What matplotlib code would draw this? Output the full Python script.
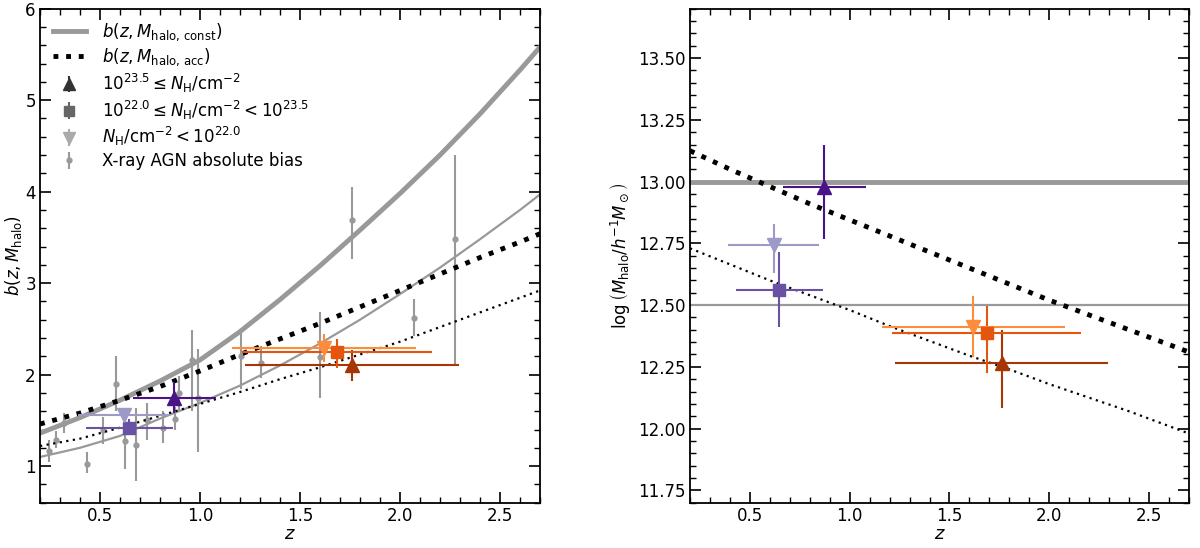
import numpy as np
import matplotlib
matplotlib.use("Agg")
import matplotlib.pyplot as plt
from matplotlib.ticker import MultipleLocator, FormatStrFormatter

# ---------------- data ----------------
# model curves
z_grid = [0.2, 0.4, 0.6, 0.8, 1.0, 1.2, 1.4, 1.6, 1.8, 2.0, 2.2, 2.4, 2.6, 2.7]
b_const_hi = [1.36, 1.53, 1.72, 1.93, 2.16, 2.47, 2.82, 3.19, 3.58, 3.98, 4.40, 4.85, 5.33, 5.58]
b_const_lo = [1.10, 1.20, 1.33, 1.52, 1.69, 1.88, 2.10, 2.34, 2.60, 2.88, 3.17, 3.48, 3.80, 3.97]
b_acc_hi = [1.46, 1.58, 1.72, 1.87, 2.04, 2.22, 2.39, 2.56, 2.74, 2.92, 3.10, 3.28, 3.45, 3.54]
b_acc_lo = [1.22, 1.30, 1.42, 1.55, 1.68, 1.81, 1.95, 2.08, 2.22, 2.36, 2.52, 2.68, 2.84, 2.92]
m_const_hi = 13.0
m_const_lo = 12.5
m_acc_hi = [13.125, 13.05, 12.98, 12.91, 12.845, 12.78, 12.715, 12.65, 12.585, 12.52, 12.46, 12.40, 12.34, 12.31]
m_acc_lo = [12.73, 12.665, 12.60, 12.54, 12.48, 12.415, 12.355, 12.295, 12.24, 12.18, 12.125, 12.07, 12.01, 11.98]

# X-ray AGN absolute bias (z, b, lower, upper)
agn_z = [0.247, 0.28, 0.32, 0.433, 0.517, 0.58, 0.625, 0.68, 0.733, 0.817, 0.875, 0.897, 0.958, 0.99, 1.203, 1.303, 1.60, 1.76, 2.07, 2.277]
agn_b = [1.17, 1.29, 1.47, 1.02, 1.40, 1.90, 1.27, 1.23, 1.50, 1.42, 1.52, 1.80, 2.16, 1.74, 2.20, 2.13, 2.19, 3.69, 2.62, 3.48]
agn_lo = [1.05, 1.20, 1.36, 0.92, 1.24, 1.60, 0.97, 0.84, 1.29, 1.25, 1.39, 1.60, 1.60, 1.15, 1.84, 1.96, 1.74, 3.26, 2.42, 2.11]
agn_hi = [1.29, 1.38, 1.58, 1.15, 1.54, 2.20, 1.50, 1.63, 1.69, 1.60, 1.65, 1.98, 2.49, 2.28, 2.50, 2.31, 2.68, 4.05, 2.83, 4.40]

# NH-binned samples: order = [NH>=23.5, 22<=NH<23.5, NH<22]
low_z = [0.871, 0.647, 0.621]
low_zlo = [0.664, 0.430, 0.392]
low_zhi = [1.080, 0.865, 0.848]
low_b = [1.74, 1.42, 1.56]
low_blo = [1.58, 1.34, 1.52]
low_bhi = [1.92, 1.52, 1.60]
low_m = [12.977, 12.561, 12.743]
low_mlo = [12.766, 12.413, 12.629]
low_mhi = [13.148, 12.716, 12.827]

high_z = [1.762, 1.686, 1.619]
high_zlo = [1.227, 1.210, 1.160]
high_zhi = [2.296, 2.160, 2.079]
high_b = [2.11, 2.25, 2.29]
high_blo = [1.93, 2.07, 2.14]
high_bhi = [2.27, 2.39, 2.44]
high_m = [12.267, 12.386, 12.410]
high_mlo = [12.082, 12.226, 12.289]
high_mhi = [12.399, 12.496, 12.537]

markers = ["^", "s", "v"]
low_colors = ["#4a1486", "#6a51a3", "#9e9ac8"]
high_colors = ["#a63603", "#e6550d", "#fd8d3c"]
legend_gray = ["#333333", "#666666", "#aaaaaa"]
labels = [r"$10^{23.5} \leq N_{\rm H}/{\rm cm}^{-2}$",
          r"$10^{22.0} \leq N_{\rm H}/{\rm cm}^{-2} < 10^{23.5}$",
          r"$N_{\rm H}/{\rm cm}^{-2} < 10^{22.0}$"]

# ---------------- figure ----------------
plt.rcParams["font.family"] = ["DejaVu Sans"]
plt.rcParams["font.size"] = 12
fig = plt.figure(figsize=(12, 5.48), dpi=100)
ax1 = fig.add_axes([40 / 1200, 45.3 / 548, 500 / 1200, 494 / 548])
ax2 = fig.add_axes([690 / 1200, 45.3 / 548, 499 / 1200, 494 / 548])

GRAY = "#999999"

# ---- left panel ----
ax1.plot(z_grid, b_const_hi, color=GRAY, lw=3.5, label=r"$b(z, M_{\rm halo,\,const})$", zorder=2)
ax1.plot(z_grid, b_const_lo, color=GRAY, lw=1.6, zorder=2)
ax1.plot(z_grid, b_acc_hi, color="black", lw=3.5, ls=(0, (1, 1.6)), label=r"$b(z, M_{\rm halo,\,acc})$", zorder=2)
ax1.plot(z_grid, b_acc_lo, color="black", lw=1.6, ls=(0, (1, 2.0)), zorder=2)

agn_z_a = np.array(agn_z)
agn_b_a = np.array(agn_b)
ax1.errorbar(agn_z_a, agn_b_a,
             yerr=[agn_b_a - np.array(agn_lo), np.array(agn_hi) - agn_b_a],
             fmt="o", ms=3.5, color=GRAY, ecolor=GRAY, elinewidth=1.5, capsize=0, zorder=1)

for i in range(3):
    for zs, zl, zh, ys, yl, yh, cols in [
        (low_z, low_zlo, low_zhi, low_b, low_blo, low_bhi, low_colors),
        (high_z, high_zlo, high_zhi, high_b, high_blo, high_bhi, high_colors)]:
        ax1.errorbar([zs[i]], [ys[i]],
                     xerr=[[zs[i] - zl[i]], [zh[i] - zs[i]]],
                     yerr=[[ys[i] - yl[i]], [yh[i] - ys[i]]],
                     fmt=markers[i], ms=10 if markers[i] != "s" else 9,
                     color=cols[i], ecolor=cols[i], elinewidth=1.5, capsize=0, zorder=3)

# legend proxies
for i in range(3):
    ax1.errorbar([np.nan], [np.nan], yerr=[[0.1], [0.1]], fmt=markers[i],
                 ms=8 if markers[i] != "s" else 7, color=legend_gray[i],
                 ecolor=legend_gray[i], elinewidth=1.5, capsize=0, label=labels[i])
ax1.errorbar([np.nan], [np.nan], yerr=[[0.1], [0.1]], fmt="o", ms=3.5, color=GRAY,
             ecolor=GRAY, elinewidth=1.5, capsize=0, label="X-ray AGN absolute bias")

ax1.legend(loc="upper left", frameon=False, fontsize=12, handlelength=2.0,
           borderaxespad=0.35, labelspacing=0.22, handletextpad=1.0)

ax1.set_xlim(0.2, 2.7)
ax1.set_ylim(0.6, 6.0)
ax1.xaxis.set_major_locator(MultipleLocator(0.5))
ax1.xaxis.set_minor_locator(MultipleLocator(0.1))
ax1.yaxis.set_major_locator(MultipleLocator(1))
ax1.yaxis.set_minor_locator(MultipleLocator(0.2))
ax1.xaxis.set_major_formatter(FormatStrFormatter("%.1f"))
ax1.set_xlabel(r"$z$", fontsize=13, labelpad=0)
ax1.set_ylabel(r"$b(z, M_{\rm halo})$", fontsize=12, labelpad=1)

# ---- right panel ----
ax2.axhline(m_const_hi, color=GRAY, lw=3.5, zorder=2)
ax2.axhline(m_const_lo, color=GRAY, lw=1.6, zorder=2)
ax2.plot(z_grid, m_acc_hi, color="black", lw=3.5, ls=(0, (1, 1.6)), zorder=2)
ax2.plot(z_grid, m_acc_lo, color="black", lw=1.6, ls=(0, (1, 2.0)), zorder=2)

for i in range(3):
    for zs, zl, zh, ys, yl, yh, cols in [
        (low_z, low_zlo, low_zhi, low_m, low_mlo, low_mhi, low_colors),
        (high_z, high_zlo, high_zhi, high_m, high_mlo, high_mhi, high_colors)]:
        ax2.errorbar([zs[i]], [ys[i]],
                     xerr=[[zs[i] - zl[i]], [zh[i] - zs[i]]],
                     yerr=[[ys[i] - yl[i]], [yh[i] - ys[i]]],
                     fmt=markers[i], ms=10 if markers[i] != "s" else 9,
                     color=cols[i], ecolor=cols[i], elinewidth=1.5, capsize=0, zorder=3)

ax2.set_xlim(0.2, 2.7)
ax2.set_ylim(11.7, 13.7)
ax2.xaxis.set_major_locator(MultipleLocator(0.5))
ax2.xaxis.set_minor_locator(MultipleLocator(0.1))
ax2.yaxis.set_major_locator(MultipleLocator(0.25))
ax2.yaxis.set_minor_locator(MultipleLocator(0.05))
ax2.xaxis.set_major_formatter(FormatStrFormatter("%.1f"))
ax2.yaxis.set_major_formatter(FormatStrFormatter("%.2f"))
ax2.set_xlabel(r"$z$", fontsize=13, labelpad=0)
ax2.set_ylabel(r"$\log\left(M_{\rm halo}/h^{-1}M_\odot\right)$", fontsize=12, labelpad=4)

for ax in (ax1, ax2):
    ax.tick_params(which="both", direction="in", top=True, right=True, labelsize=12)
    ax.tick_params(which="major", length=8, width=1.2, pad=3)
    ax.tick_params(which="minor", length=4, width=1.0)
    for s in ax.spines.values():
        s.set_linewidth(1.3)

fig.savefig("out.png", dpi=100)
